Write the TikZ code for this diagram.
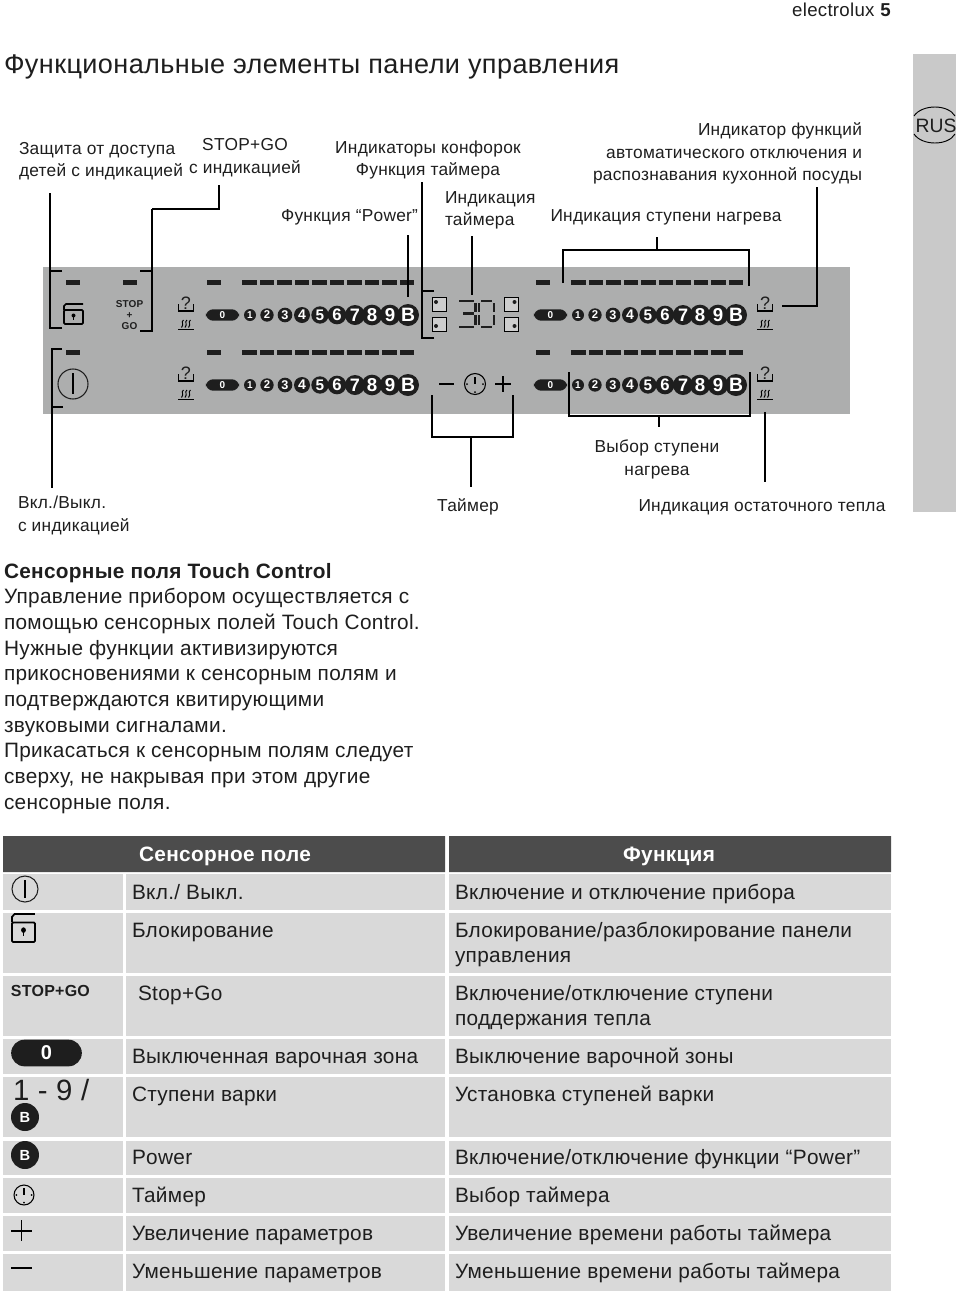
\documentclass[tikz,border=0pt]{standalone}
\usepackage{fontspec}
\setmainfont[LetterSpace=1.5]{Liberation Sans}
\usepackage{tikz}
\usetikzlibrary{positioning,calc}
\definecolor{panelgray}{HTML}{ADAEAE}
\definecolor{sidegray}{HTML}{C9C9C9}
\definecolor{rowgray}{HTML}{D9D9D9}
\definecolor{headgray}{HTML}{4C4C4C}
\definecolor{inkblack}{HTML}{1E1E1E}

\begin{document}
\begin{tikzpicture}[
    x=0.75pt, y=-0.75pt,
    every node/.style={inner sep=0pt, outer sep=0pt, text=inkblack},
    lbl/.style={font=\fontsize{13}{16.9}\selectfont},
    cell/.style={font=\fontsize{15.6}{19}\selectfont, anchor=base west},
    headcell/.style={font=\fontsize{15.6}{19}\selectfont\bfseries, text=white, anchor=base},
    leader/.style={draw=black, line width=0.8pt},
    digit/.style={circle, fill=inkblack, text=white, font=\bfseries},
    pill/.style={rounded corners=5.6pt, fill=inkblack, text=white, font=\bfseries},
    lockicon/.pic={
        \draw[line width=1.3pt, rounded corners=0.8pt] (-9.5,-4) -- (9.5,-4) -- (9.5,10) -- (-9.5,10) -- cycle;
        \draw[line width=1.3pt] (-9.5,-4) -- (-9.5,-8) -- (-7.5,-10) -- (9.5,-10);
        \fill (0,1.5) circle (2); \fill (-0.8,1.5) rectangle (0.8,6);
    },
    clockicon/.pic={
        \draw[line width=0.8pt] (0,0) circle (10.5);
        \draw[line width=0.8pt] (0,-7) -- (0,0);
        \fill (-8,0) circle (1) (8,0) circle (1) (0,8) circle (1);
    },
    heaticon/.pic={
        \draw[line width=0.8pt] (-7.5,-21) -- (-7.5,-14) -- (7.5,-14) -- (7.5,-21);
        \node[font=\fontsize{13.5}{13.5}\selectfont] at (0,-22) {?};
        \foreach \k in {-3.5,0,3.5}
            \draw[line width=0.7pt] ($(\k,-5)+(1,0)$) .. controls ($(\k,-3)+(-2,0)$) and ($(\k,-1)+(2,0)$) .. ($(\k,2.5)+(-1,0)$);
        \draw[line width=0.8pt] (-8,4.5) -- (8,4.5);
    }
]
\useasboundingbox (0,0) rectangle (960,1293);

% Header
\node[anchor=east, font=\fontsize{14}{14}\selectfont] (brand) at (891,10) {electrolux \textbf{5}};
\node[anchor=west, font=\fontsize{20.3}{24}\selectfont] (title) at (4,67) {Функциональные элементы панели управления};

% Side tab
\fill[sidegray] (913,54) rectangle (956,512);
\node[font=\addfontfeature{LetterSpace=0}\fontsize{14.5}{14.5}\selectfont, anchor=center] (rus) at (936,125.5) {RUS};
\draw[line width=0.7pt] (914,116) .. controls (922,104) and (948,104) .. (955,116);
\draw[line width=0.7pt] (914,134) .. controls (922,146) and (948,146) .. (955,134);

% Panel
\fill[panelgray] (43,267) rectangle (850,414);

% Level dashes
\foreach \y in {282,352} {
    \fill[inkblack] (66,\y-2.5) rectangle (80,\y+2.5);
    \foreach \dx in {0,329} {
        \fill[inkblack] (207+\dx,\y-2.5) rectangle (221+\dx,\y+2.5);
        \foreach \i in {0,...,9}
            \fill[inkblack] (242+17.55*\i+\dx,\y-2.5) rectangle (256.5+17.55*\i+\dx,\y+2.5);
    }
}
\fill[inkblack] (123,279.5) rectangle (137,284.5);

% Digit rows
\foreach \dx in {0,328} {
    \foreach \dy in {0,70} {
        \begin{scope}[shift={(\dx,\dy)}]
            \node[pill, minimum width=25pt, minimum height=8.6pt, font=\fontsize{7.5}{7.5}\selectfont\bfseries] (zero-\dx-\dy) at (222.5,315) {0};
            \foreach \d/\xx/\rr/\ff in {1/250/9/7.5, 2/267/10/8.5, 3/285/11/9.5, 4/302/12/10.5, 5/320/13/11.5, 6/337/14/12.5, 7/355/15/13.5, 8/372/15.5/14, 9/390/15.5/14, B/408/16.5/14.5}
                \node[digit, minimum size=\rr pt, font=\fontsize{\ff}{\ff}\selectfont\bfseries] (dig\d-\dx-\dy) at (\xx,315) {\d};
        \end{scope}
    }
}

% Residual heat fields
\foreach \xx in {186,765} {
    \foreach \yy in {325,395}
        \pic at (\xx,\yy) {heaticon};
}

% Lock, stop and power fields
\pic at (73.5,314) {lockicon};
\node[font=\fontsize{7.5}{8.4}\selectfont\bfseries, align=center] (stopgo) at (129.5,315) {STOP\\+\\GO};
\node[circle, draw=inkblack, line width=0.8pt, minimum size=22.5pt] (onoff) at (73,384) {};
\draw[line width=0.8pt] (73,373) -- (73,394);

% Timer fields
\foreach \xx/\yy/\dxx/\dyy in {439/304/-3/-2, 439/324/-3/2, 511.5/304/3/-2, 511.5/324/3/2} {
    \draw[line width=0.6pt, fill=panelgray!60!white] (\xx-7,\yy-7) rectangle (\xx+7,\yy+7);
    \fill[inkblack] (\xx+\dxx,\yy+\dyy) circle (2);
}
\begin{scope}[line width=2pt, inkblack]
    \draw (459,301) -- (474,301) (475.5,303) -- (475.5,312) (463,313.5) -- (474,313.5) (475.5,315) -- (475.5,325) (459,327) -- (474,327);
    \draw (481,301) -- (492,301) (479,303) -- (479,312) (494,303) -- (494,312) (479,315) -- (479,325) (494,315) -- (494,325) (481,327) -- (492,327);
\end{scope}
\draw[line width=0.9pt] (439,384) -- (454,384);
\pic at (475,384) {clockicon};
\draw[line width=0.9pt] (495,384) -- (511,384) (503,376) -- (503,392);

% Top labels
\node[lbl, anchor=west, align=left] (lockLabel) at (19,161) {Защита от доступа\\детей с индикацией};
\node[lbl, align=center] (stopLabel) at (245,157.5) {STOP+GO\\с индикацией};
\node[lbl, align=center] (zoneLabel) at (428,160) {Индикаторы конфорок\\Функция таймера};
\node[lbl, anchor=east] (powerLabel) at (418,217) {Функция “Power”};
\node[lbl, anchor=west, align=left] (timerLabel) at (445,210.5) {Индикация\\таймера};
\node[lbl, anchor=east, align=right] (autoLabel) at (862,153.5) {Индикатор функций\\автоматического отключения и\\распознавания кухонной посуды};
\node[lbl] (levelLabel) at (666,217) {Индикация ступени нагрева};

% Bottom labels
\node[lbl, anchor=west, align=left] (onoffLabel) at (18,515.5) {Вкл./Выкл.\\с индикацией};
\node[lbl] (clockLabel) at (468,507) {Таймер};
\node[lbl, align=center] (selectLabel) at (657,459.5) {Выбор ступени\\нагрева};
\node[lbl] (heatLabel) at (762,507) {Индикация остаточного тепла};

% Leader ends
\coordinate (lockTop) at (50,193);
\coordinate (lockUp) at (62,271);
\coordinate (lockLow) at (62,328);
\coordinate (stopTop) at (219,185);
\coordinate (stopMid) at (152,209);
\coordinate (stopUp) at (140,271);
\coordinate (stopLow) at (140,331);
\coordinate (powerTop) at (408,235);
\coordinate (powerEnd) at (408,297);
\coordinate (zoneTop) at (422,182);
\coordinate (zoneUp) at (434,291);
\coordinate (zoneLow) at (434,338);
\coordinate (timerTop) at (472,236);
\coordinate (timerEnd) at (472,295);
\coordinate (levelTop) at (657,237);
\coordinate (levelMid) at (657,250);
\coordinate (levelA) at (563,283);
\coordinate (levelB) at (749,286);
\coordinate (autoTop) at (817,187);
\coordinate (autoEnd) at (782,306);
\coordinate (onoffUp) at (62,349);
\coordinate (onoffMid) at (63,407);
\coordinate (onoffEnd) at (52,488);
\coordinate (clockA) at (432,395);
\coordinate (clockB) at (513,395);
\coordinate (clockMid) at (471,437);
\coordinate (clockEnd) at (471,487);
\coordinate (selectA) at (569,372);
\coordinate (selectB) at (750,372);
\coordinate (selectMid) at (659,416);
\coordinate (selectEnd) at (659,427);
\coordinate (heatTop) at (765,412);
\coordinate (heatEnd) at (765,482);

% Leaders
\draw[leader] (lockUp) -| (lockTop);
\draw[leader] (lockLow) -| (lockTop);
\draw[leader] (stopTop) |- (stopMid);
\draw[leader] (stopUp) -| (stopMid);
\draw[leader] (stopLow) -| (stopMid);
\draw[leader] (powerTop) -- (powerEnd);
\draw[leader] (zoneUp) -| (zoneTop);
\draw[leader] (zoneLow) -| (zoneTop);
\draw[leader] (timerTop) -- (timerEnd);
\draw[leader] (levelTop) -- (levelMid);
\draw[leader] (levelA) |- (levelMid);
\draw[leader] (levelB) |- (levelMid);
\draw[leader] (autoTop) |- (autoEnd);
\draw[leader] (onoffUp) -| (onoffEnd);
\draw[leader] (onoffMid) -| (onoffEnd);
\draw[leader] (clockA) |- (clockMid);
\draw[leader] (clockB) |- (clockMid);
\draw[leader] (clockMid) -- (clockEnd);
\draw[leader] (selectA) |- (selectMid);
\draw[leader] (selectB) |- (selectMid);
\draw[leader] (selectMid) -- (selectEnd);
\draw[leader] (heatTop) -- (heatEnd);

% Intro text
\node[anchor=north west, align=left, font=\fontsize{15.6}{19.25}\selectfont] (intro) at (4,563) {\textbf{Сенсорные поля Touch Control}\\Управление прибором осуществляется с\\помощью сенсорных полей Touch Control.\\Нужные функции активизируются\\прикосновениями к сенсорным полям и\\подтверждаются квитирующими\\звуковыми сигналами.\\Прикасаться к сенсорным полям следует\\сверху, не накрывая при этом другие\\сенсорные поля.};

% Table
\fill[headgray] (3,836) rectangle (445,872) (449,836) rectangle (891,872);
\foreach \ya/\yb in {874/910, 913/973, 976/1036, 1039/1074, 1077/1137, 1141/1175, 1178/1213, 1216/1251, 1254/1291} {
    \fill[rowgray] (3,\ya) rectangle (123,\yb);
    \fill[rowgray] (126,\ya) rectangle (445,\yb);
    \fill[rowgray] (449,\ya) rectangle (891,\yb);
}
\node[headcell] (headField) at (225,861) {Сенсорное поле};
\node[headcell] (headFunc) at (669,861) {Функция};

% Table text
\node[cell] (r1a) at (132,899) {Вкл./ Выкл.};
\node[cell] (r1b) at (455,899) {Включение и отключение прибора};
\node[cell] (r2a) at (132,937) {Блокирование};
\node[cell] (r2b) at (455,937) {Блокирование/разблокирование панели};
\node[cell] (r2c) at (455,962) {управления};
\node[cell] (r3a) at (138,1000) {Stop+Go};
\node[cell] (r3b) at (455,1000) {Включение/отключение ступени};
\node[cell] (r3c) at (455,1025) {поддержания тепла};
\node[cell] (r4a) at (132,1063) {Выключенная варочная зона};
\node[cell] (r4b) at (455,1063) {Выключение варочной зоны};
\node[cell] (r5a) at (132,1101) {Ступени варки};
\node[cell] (r5b) at (455,1101) {Установка ступеней варки};
\node[cell] (r6a) at (132,1164) {Power};
\node[cell] (r6b) at (455,1164) {Включение/отключение функции “Power”};
\node[cell] (r7a) at (132,1202) {Таймер};
\node[cell] (r7b) at (455,1202) {Выбор таймера};
\node[cell] (r8a) at (132,1240) {Увеличение параметров};
\node[cell] (r8b) at (455,1240) {Увеличение времени работы таймера};
\node[cell] (r9a) at (132,1278) {Уменьшение параметров};
\node[cell] (r9b) at (455,1278) {Уменьшение времени работы таймера};

% Table icons
\node[circle, draw=inkblack, line width=0.8pt, minimum size=19.5pt] (tabOn) at (25,889) {};
\draw[line width=0.8pt] (25,880) -- (25,898);
\pic[xscale=1.2, yscale=1.4] at (23.5,928) {lockicon};
\node[anchor=west, font=\fontsize{12}{12}\selectfont\bfseries] (tabStop) at (11,991) {STOP+GO};
\node[pill, minimum width=53pt, minimum height=20pt, rounded corners=10pt, font=\fontsize{15}{15}\selectfont\bfseries] (tabZero) at (46.5,1053) {0};
\node[anchor=west, font=\fontsize{22}{22}\selectfont] (tabRange) at (13,1090) {1 - 9 /};
\node[digit, minimum size=21pt, font=\fontsize{11}{11}\selectfont\bfseries] (tabB) at (25,1117) {B};
\node[digit, minimum size=21pt, font=\fontsize{11}{11}\selectfont\bfseries] (tabPower) at (25,1155) {B};
\pic[scale=0.95] at (24,1195) {clockicon};
\draw[line width=0.8pt] (11,1231) -- (32,1231) (21.5,1220) -- (21.5,1241);
\draw[line width=0.8pt] (11,1268) -- (32,1268);

\end{tikzpicture}
\end{document}
